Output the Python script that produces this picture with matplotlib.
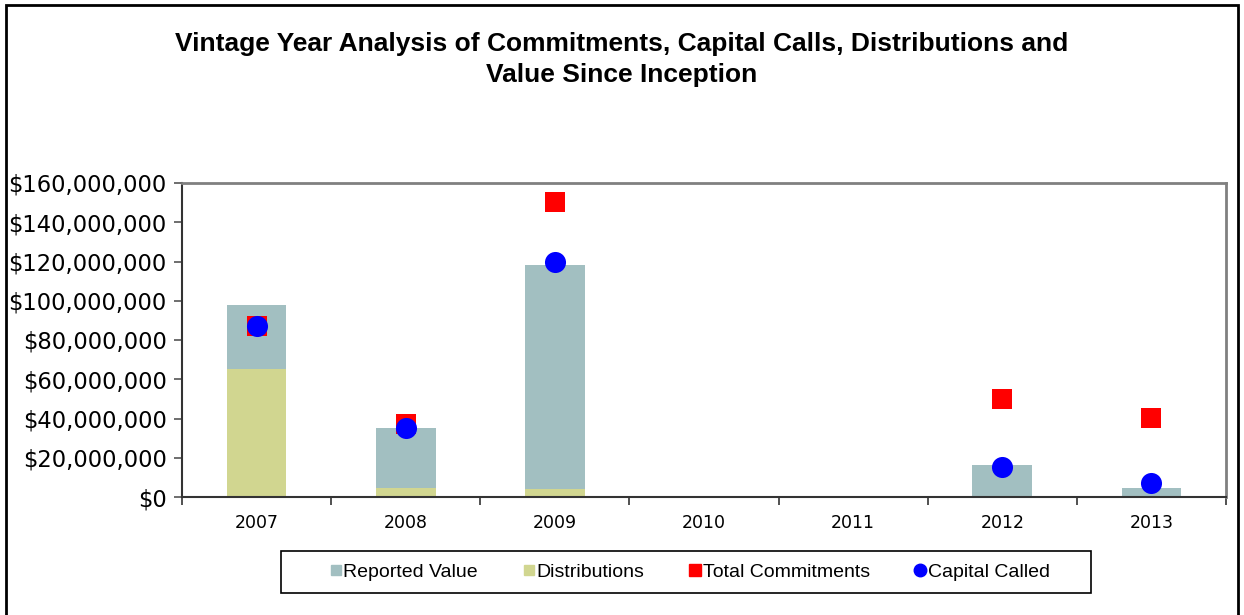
import matplotlib
matplotlib.use("Agg")
import matplotlib.pyplot as plt
from matplotlib.ticker import FuncFormatter, FixedLocator
from matplotlib.patches import Rectangle
from matplotlib.lines import Line2D
import numpy as np

years = ["2007", "2008", "2009", "2010", "2011", "2012", "2013"]
distributions = [65.2e6, 4.6e6, 4.1e6, 0, 0, 0.5e6, 0]
reported_value = [32.6e6, 30.6e6, 114.1e6, 0, 0, 15.8e6, 4.6e6]
total_commitments = [87.0e6, 37.2e6, 150.3e6, np.nan, np.nan, 50.0e6, 40.3e6]
capital_called = [87.0e6, 35.2e6, 119.7e6, np.nan, np.nan, 15.3e6, 7.1e6]

c_rep = "#a2bfc1"
c_dist = "#d1d690"
c_com = "#ff0000"
c_cap = "#0000ff"

W, H = 1244, 615
fig = plt.figure(figsize=(W/100, H/100), dpi=100)
ax = fig.add_axes([182/W, 1-497/H, (1226-182)/W, (497-183)/H])

x = np.arange(len(years))
w = 0.4
ax.bar(x, distributions, width=w, color=c_dist, zorder=2)
ax.bar(x, reported_value, width=w, bottom=distributions, color=c_rep, zorder=2)
ax.scatter(x, total_commitments, marker="s", s=190, color=c_com, zorder=3, linewidths=0)
ax.scatter(x, capital_called, marker="o", s=230, color=c_cap, zorder=4, linewidths=0)

ax.set_xlim(-0.5, 6.5)
ax.set_ylim(0, 160e6)
ax.set_yticks(np.arange(0, 160e6 + 1, 20e6))
ax.yaxis.set_major_formatter(FuncFormatter(lambda v, p: "${:,.0f}".format(v)))
ax.tick_params(axis="y", labelsize=16.3, length=6, width=1.2, color="#555555", pad=5)

ax.xaxis.set_major_locator(FixedLocator(np.arange(-0.5, 7, 1)))
ax.xaxis.set_major_formatter(FuncFormatter(lambda v, p: ""))
ax.xaxis.set_minor_locator(FixedLocator(x))
ax.set_xticklabels(years, minor=True)
ax.tick_params(axis="x", which="major", length=6, width=1.2, color="#333333")
ax.tick_params(axis="x", which="minor", length=0, labelsize=12.5, pad=12)

for side in ["top", "right"]:
    ax.spines[side].set_color("#808080")
    ax.spines[side].set_linewidth(2)
for side in ["left", "bottom"]:
    ax.spines[side].set_color("#333333")
    ax.spines[side].set_linewidth(1.5)

fig.text(0.5, 1-59.5/H, "Vintage Year Analysis of Commitments, Capital Calls, Distributions and\nValue Since Inception",
         ha="center", va="center", fontsize=19, fontweight="bold", family="Liberation Sans", linespacing=1.35)

handles = [
    Line2D([], [], marker="s", linestyle="none", color=c_rep, markersize=7),
    Line2D([], [], marker="s", linestyle="none", color=c_dist, markersize=7),
    Line2D([], [], marker="s", linestyle="none", color=c_com, markersize=9),
    Line2D([], [], marker="o", linestyle="none", color=c_cap, markersize=9),
]
labels = ["Reported Value", "Distributions", "Total Commitments", "Capital Called"]
leg = fig.legend(handles, labels, loc="center",
                 bbox_to_anchor=(690/W, 1-572/H), ncol=4, frameon=False,
                 prop={"family": "Liberation Sans", "size": 14},
                 handlelength=0.6, handletextpad=0.1, columnspacing=2.3, borderpad=0.0)

legframe = Rectangle((281/W, 1-593/H), (1091-281)/W, (593-551)/H, transform=fig.transFigure,
                     fill=False, edgecolor="black", linewidth=1.2)
fig.patches.append(legframe)

border = Rectangle((6/W, -0.01), (1238-6)/W, (1-5/H)+0.01, transform=fig.transFigure,
                   fill=False, edgecolor="black", linewidth=2)
fig.patches.append(border)

fig.savefig("out.png", dpi=100)
